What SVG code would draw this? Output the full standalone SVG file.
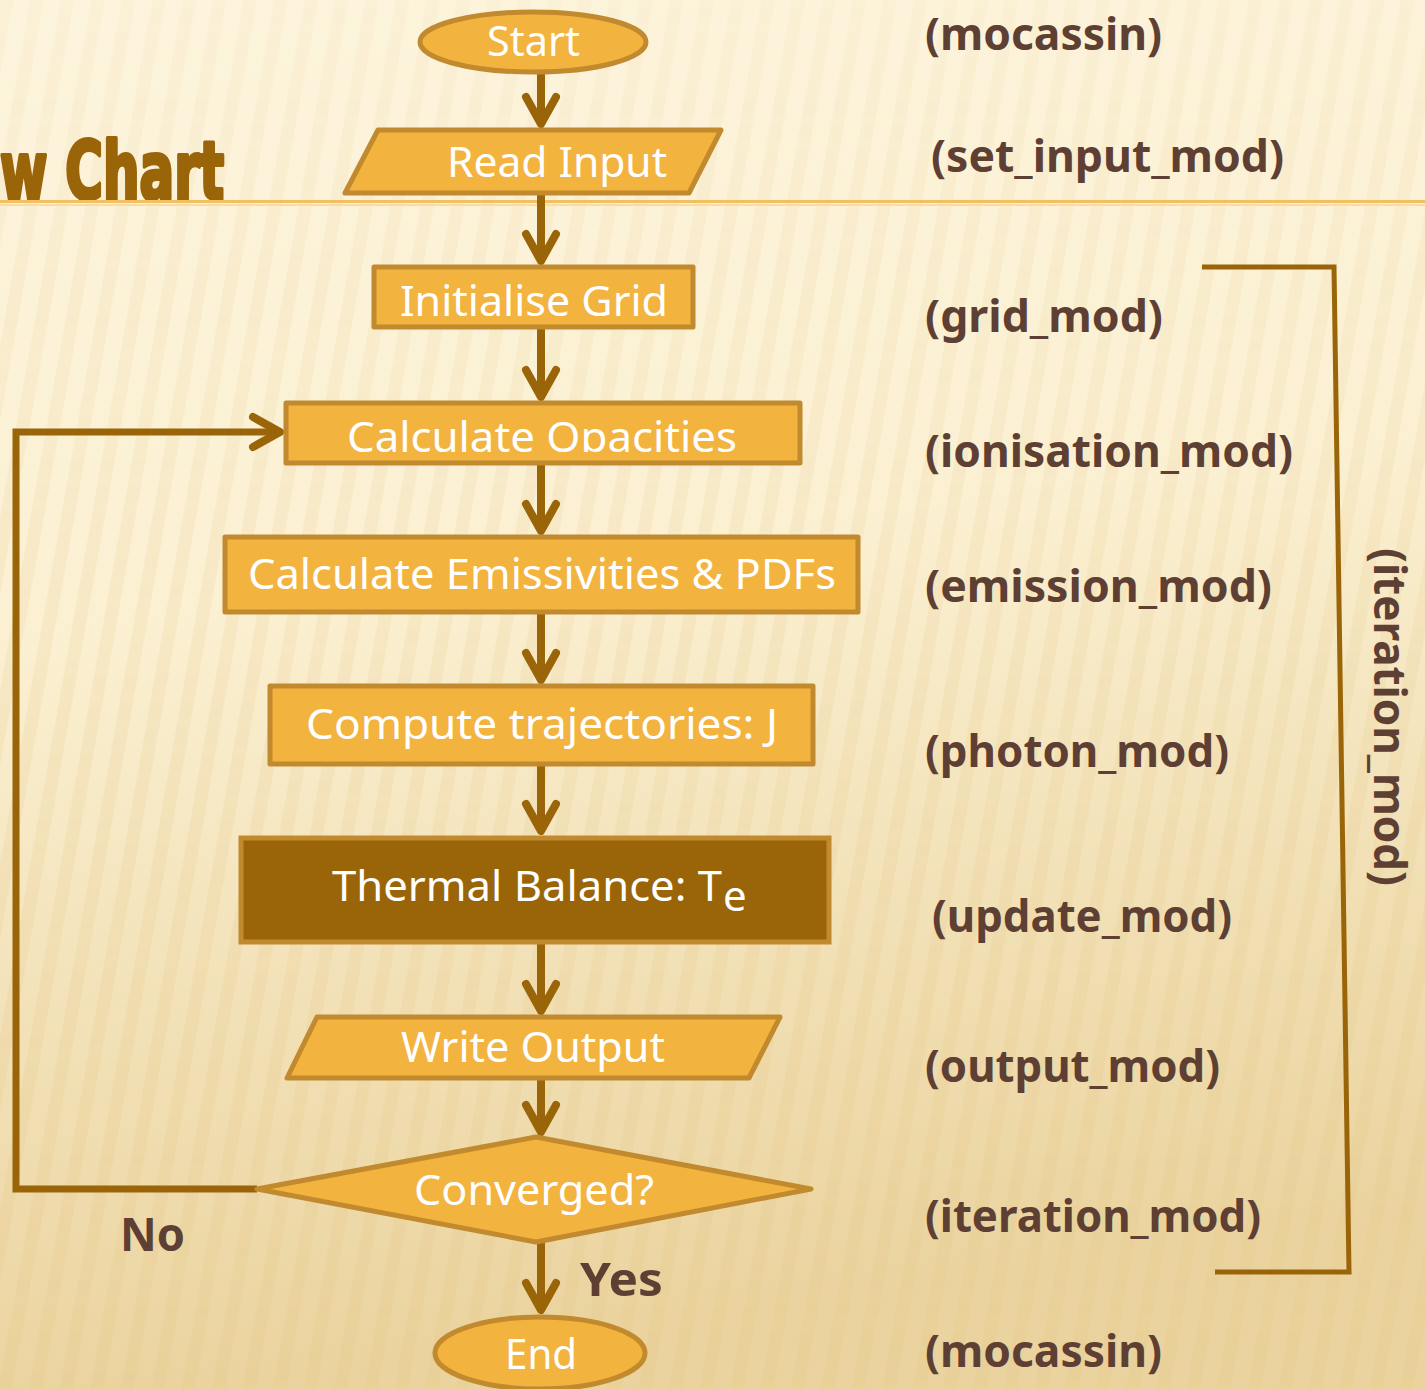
<svg xmlns="http://www.w3.org/2000/svg" width="1425" height="1389" viewBox="0 0 1425 1389">
  <defs>
    <linearGradient id="bg" x1="0" y1="0" x2="0.15" y2="1">
      <stop offset="0" stop-color="#fdf4dd"/>
      <stop offset="0.45" stop-color="#fbf0d2"/>
      <stop offset="1" stop-color="#ead39e"/>
    </linearGradient>
    <linearGradient id="fade" x1="0" y1="0" x2="0" y2="1">
      <stop offset="0" stop-color="#fff" stop-opacity="0.25"/>
      <stop offset="1" stop-color="#fff" stop-opacity="0.9"/>
    </linearGradient>
    <pattern id="stripes" width="30" height="60" patternUnits="userSpaceOnUse" patternTransform="rotate(10)">
      <rect x="0" y="0" width="13" height="60" fill="#e6cc90" opacity="0.35"/>
    </pattern>
    <mask id="stripeMask">
      <rect width="1425" height="1389" fill="url(#fade)"/>
    </mask>
    <marker id="chev" markerUnits="userSpaceOnUse" orient="auto" refX="0" refY="0" markerWidth="40" markerHeight="40" overflow="visible">
      <path d="M-27,-15 L0,0 L-27,15" fill="none" stroke="#9a6508" stroke-width="8" stroke-linecap="round" stroke-linejoin="round"/>
    </marker>
    <clipPath id="opClip">
      <rect x="286" y="403" width="514" height="49"/>
    </clipPath>
    <style>
      .node { fill: #f3b33f; stroke: #c28a2e; stroke-width: 5; stroke-linejoin: round; }
      .dark { fill: #9a6508; stroke: #c28a2e; stroke-width: 5; }
      .nt { font-family: "Noto Sans", "DejaVu Sans", sans-serif; font-size: 42px; fill: #ffffff; text-anchor: start; }
      .lbl { font-family: "Noto Sans", "DejaVu Sans", sans-serif; font-weight: bold; font-size: 44px; fill: #5e3f33; }
      .yn { font-family: "Noto Sans", "DejaVu Sans", sans-serif; font-weight: bold; font-size: 47px; fill: #5e3f33; }
      .conn { fill: none; stroke: #9a6508; stroke-width: 8; }
      .loop { fill: none; stroke: #9a6508; stroke-width: 7; }
      .brk { fill: none; stroke: #9a6508; stroke-width: 5; }
    </style>
  </defs>

  <!-- background -->
  <rect width="1425" height="1389" fill="url(#bg)"/>
  <rect width="1425" height="1389" fill="url(#stripes)" mask="url(#stripeMask)"/>

  <!-- title -->
  <g id="title">
    <text x="0" y="199" font-family="'DejaVu Sans Condensed', 'DejaVu Sans', sans-serif" font-weight="bold" font-size="80" fill="#9a6508" stroke="#9a6508" stroke-width="4" stroke-linejoin="round" textLength="224" lengthAdjust="spacingAndGlyphs">w Chart</text>
    <rect x="0" y="200" width="1425" height="3" fill="#f2c064"/>
    <rect x="0" y="204" width="1425" height="2" fill="#f8dca2"/>
  </g>

  <!-- connectors -->
  <g id="connectors">
    <line class="conn" x1="541" y1="72" x2="541" y2="124" marker-end="url(#chev)"/>
    <line class="conn" x1="541" y1="193" x2="541" y2="261" marker-end="url(#chev)"/>
    <line class="conn" x1="541" y1="327" x2="541" y2="397" marker-end="url(#chev)"/>
    <line class="conn" x1="541" y1="463" x2="541" y2="531" marker-end="url(#chev)"/>
    <line class="conn" x1="541" y1="612" x2="541" y2="680" marker-end="url(#chev)"/>
    <line class="conn" x1="541" y1="764" x2="541" y2="831" marker-end="url(#chev)"/>
    <line class="conn" x1="541" y1="942" x2="541" y2="1011" marker-end="url(#chev)"/>
    <line class="conn" x1="541" y1="1078" x2="541" y2="1132" marker-end="url(#chev)"/>
    <line class="conn" x1="541" y1="1242" x2="541" y2="1310" marker-end="url(#chev)"/>
    <polyline class="loop" points="257,1189 16,1189 16,432 280,432" marker-end="url(#chev)"/>
    <polyline class="brk" points="1202,267 1334,267 1349,1272 1215,1272"/>
  </g>

  <!-- nodes -->
  <g id="start">
    <ellipse class="node" cx="533" cy="42" rx="113" ry="30"/>
    <text class="nt" x="487" y="56" textLength="93" lengthAdjust="spacingAndGlyphs">Start</text>
  </g>
  <g id="read-input">
    <polygon class="node" points="378,130 721,130 689,193 345,193"/>
    <text class="nt" x="447" y="177" textLength="220" lengthAdjust="spacingAndGlyphs">Read Input</text>
  </g>
  <g id="initialise-grid">
    <rect class="node" x="374" y="267" width="319" height="60"/>
    <text class="nt" x="400" y="316" textLength="268" lengthAdjust="spacingAndGlyphs">Initialise Grid</text>
  </g>
  <g id="calc-opacities">
    <rect class="node" x="286" y="403" width="514" height="60"/>
    <text class="nt" x="347" y="452" textLength="390" lengthAdjust="spacingAndGlyphs" clip-path="url(#opClip)">Calculate Opacities</text>
  </g>
  <g id="calc-emissivities">
    <rect class="node" x="225" y="537" width="633" height="75"/>
    <text class="nt" x="248" y="589" textLength="588" lengthAdjust="spacingAndGlyphs">Calculate Emissivities &amp; PDFs</text>
  </g>
  <g id="compute-trajectories">
    <rect class="node" x="270" y="686" width="543" height="78"/>
    <text class="nt" x="306" y="739" textLength="472" lengthAdjust="spacingAndGlyphs">Compute trajectories: J</text>
  </g>
  <g id="thermal-balance">
    <rect class="dark" x="241" y="838" width="588" height="104"/>
    <text class="nt" x="332" y="901" textLength="390" lengthAdjust="spacingAndGlyphs">Thermal Balance: T</text>
    <text class="nt" x="723" y="911" font-size="25">e</text>
  </g>
  <g id="write-output">
    <polygon class="node" points="317,1017 780,1017 749,1078 287,1078"/>
    <text class="nt" x="401" y="1062" textLength="264" lengthAdjust="spacingAndGlyphs">Write Output</text>
  </g>
  <g id="converged">
    <polygon class="node" points="257,1189 536,1137 811,1189 536,1242"/>
    <text class="nt" x="414" y="1205" textLength="240" lengthAdjust="spacingAndGlyphs">Converged?</text>
  </g>
  <g id="end">
    <ellipse class="node" cx="540" cy="1353" rx="105" ry="36"/>
    <text class="nt" x="505" y="1369" textLength="72" lengthAdjust="spacingAndGlyphs">End</text>
  </g>

  <!-- edge labels -->
  <g id="edge-labels">
    <text class="yn" x="120" y="1251" textLength="65" lengthAdjust="spacingAndGlyphs">No</text>
    <text class="yn" x="580" y="1296" textLength="83" lengthAdjust="spacingAndGlyphs">Yes</text>
  </g>

  <!-- module labels -->
  <g id="module-labels">
    <text class="lbl" x="925" y="50" textLength="237" lengthAdjust="spacingAndGlyphs">(mocassin)</text>
    <text class="lbl" x="931" y="172" textLength="353" lengthAdjust="spacingAndGlyphs">(set_input_mod)</text>
    <text class="lbl" x="925" y="332" textLength="238" lengthAdjust="spacingAndGlyphs">(grid_mod)</text>
    <text class="lbl" x="925" y="467" textLength="368" lengthAdjust="spacingAndGlyphs">(ionisation_mod)</text>
    <text class="lbl" x="925" y="602" textLength="347" lengthAdjust="spacingAndGlyphs">(emission_mod)</text>
    <text class="lbl" x="925" y="767" textLength="304" lengthAdjust="spacingAndGlyphs">(photon_mod)</text>
    <text class="lbl" x="932" y="932" textLength="300" lengthAdjust="spacingAndGlyphs">(update_mod)</text>
    <text class="lbl" x="925" y="1082" textLength="295" lengthAdjust="spacingAndGlyphs">(output_mod)</text>
    <text class="lbl" x="925" y="1232" textLength="336" lengthAdjust="spacingAndGlyphs">(iteration_mod)</text>
    <text class="lbl" x="925" y="1367" textLength="237" lengthAdjust="spacingAndGlyphs">(mocassin)</text>
    <text class="lbl" transform="translate(1388,717) rotate(90)" x="-169" y="14" textLength="338" lengthAdjust="spacingAndGlyphs">(iteration_mod)</text>
  </g>
</svg>
